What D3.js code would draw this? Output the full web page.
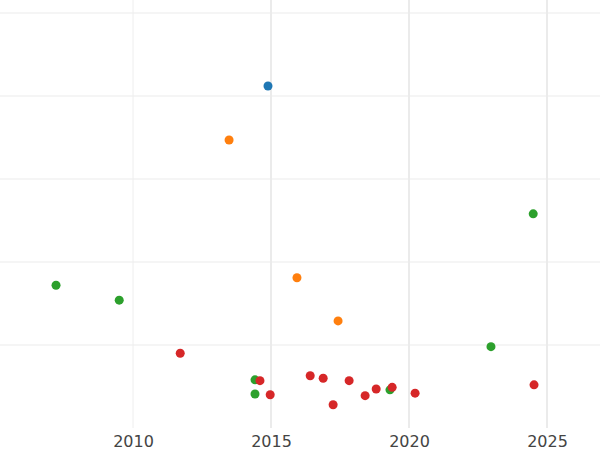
<!DOCTYPE html>
<html><head><meta charset="utf-8">
<script src="https://cdn.jsdelivr.net/npm/d3@7"></script>
<style>body{margin:0;background:#fff}</style></head>
<body><svg id="c" width="600" height="450"></svg>
<script>
const blueX=[2014.89], blueY=[4.12];
const orangeX=[2013.48,2015.94,2017.43], orangeY=[3.47,1.81,1.29];
const greenX=[2007.21,2009.50,2024.50,2022.97,2014.42,2014.42,2019.31];
const greenY=[1.72,1.54,2.58,0.98,0.58,0.41,0.46];
const redX=[2011.71,2014.60,2014.97,2016.42,2016.89,2017.83,2017.25,2018.41,2018.81,2019.39,2020.22,2024.53];
const redY=[0.90,0.57,0.40,0.63,0.60,0.57,0.28,0.39,0.47,0.49,0.42,0.52];
const xTicks=[2010,2015,2020,2025];
const yGrid=[1,2,3,4,5];

const svg=d3.select("#c");
const x=d3.scaleLinear().domain([2005.18,2026.92]).range([0,600]);
const y=d3.scaleLinear().domain([0,5]).range([428,13]);

svg.selectAll(".hg").data(yGrid).enter().append("line")
 .attr("x1",0).attr("x2",600).attr("y1",d=>y(d)).attr("y2",d=>y(d))
 .attr("stroke","#ebebeb").attr("stroke-width",1);
svg.selectAll(".vg").data(xTicks).enter().append("line")
 .attr("x1",d=>x(d)).attr("x2",d=>x(d)).attr("y1",0).attr("y2",428)
 .attr("stroke",d=>d===2010?"#eeeeee":"#ebebeb").attr("stroke-width",d=>d===2010?1:2);

const ax=svg.append("g").attr("transform","translate(0,428)")
 .call(d3.axisBottom(x).tickValues(xTicks).tickFormat(d3.format("d")).tickSize(0).tickPadding(8));
ax.select(".domain").remove();
ax.selectAll("text").attr("font-family","DejaVu Sans").attr("font-size",16).attr("fill","#444");

const series=[[blueX,blueY,"#1f77b4"],[orangeX,orangeY,"#ff7f0e"],[greenX,greenY,"#2ca02c"],[redX,redY,"#d62728"]];
series.forEach(([xs,ys,c])=>{
 svg.append("g").selectAll("circle").data(xs.map((v,i)=>[v,ys[i]])).enter().append("circle")
  .attr("cx",d=>x(d[0])).attr("cy",d=>y(d[1])).attr("r",4.5).attr("fill",c);
});
</script></body></html>
